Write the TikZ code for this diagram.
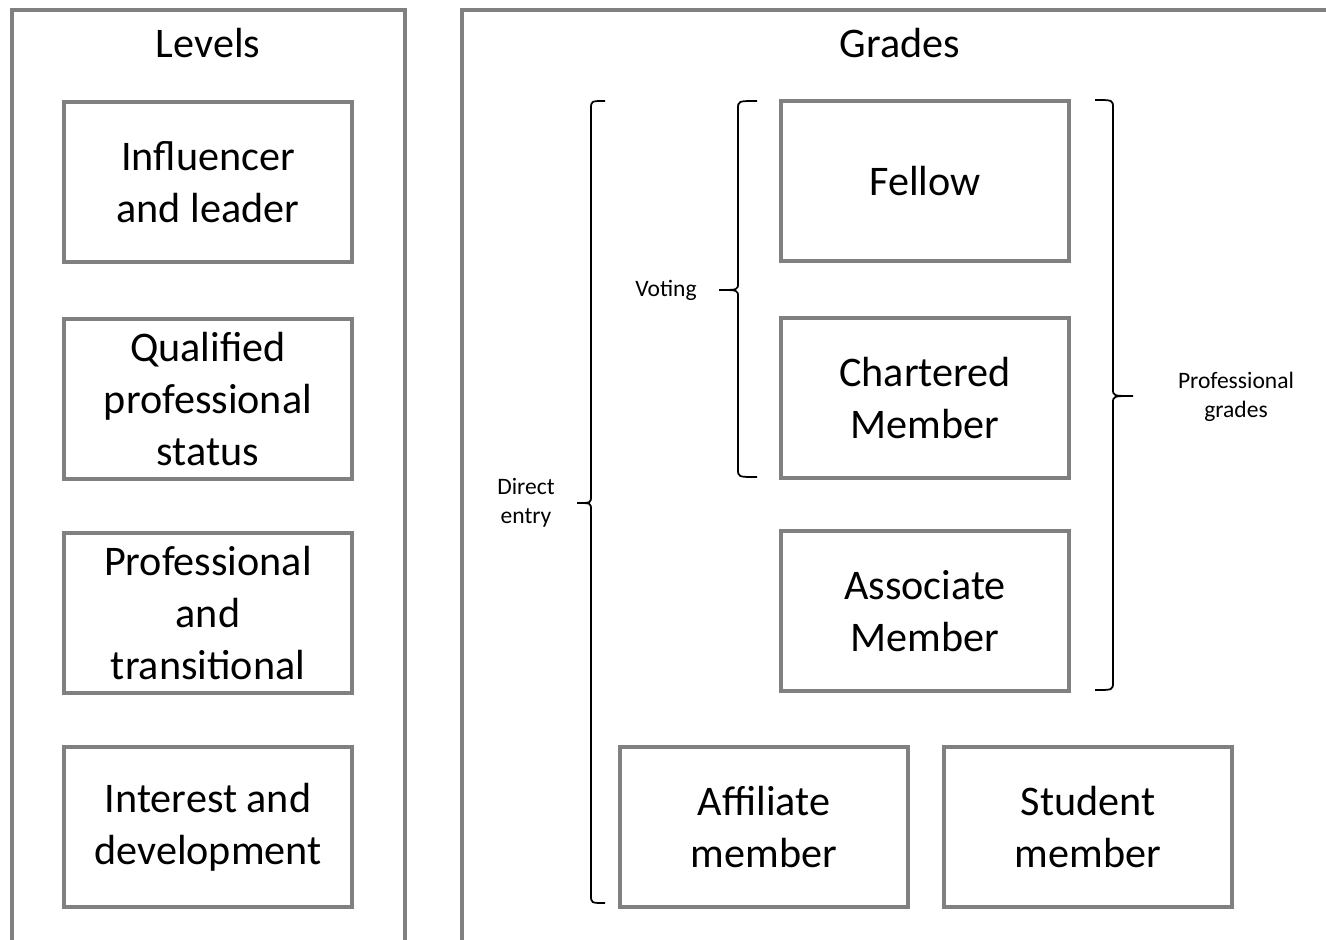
\documentclass[tikz,border=0pt]{standalone}
\usepackage{fontspec}
\setmainfont{Carlito}
\begin{document}
\begin{tikzpicture}[x=0.02cm,y=-0.02cm,
	panel/.style={draw=black!50,line width=0.09cm},
	gradebox/.style={draw=black!50,line width=0.09cm,minimum width=5.76cm,minimum height=3.2cm,inner sep=0pt,align=center,font=\fontsize{24}{29.5}\selectfont},
	heading/.style={font=\fontsize{24}{29.5}\selectfont},
	note/.style={align=center,font=\fontsize{13.4}{16.4}\selectfont},
	bracket/.style={line width=0.035cm}]
		\useasboundingbox (0,0) rectangle (1326,940);
		\clip (0,0) rectangle (1326,940);
		%panels
		\draw[panel] (12,960) -- (12,10) -- (405,10) -- (405,960);
		\draw[panel] (462,960) -- (462,10) -- (1345,10);
		%headings
		\node[heading](levels) at (208,43) {Levels};
		\node[heading](grades) at (900,43) {Grades};
		%levels
		\node[gradebox](leader) at (208,182) {Influencer\\and leader};
		\node[gradebox](qualified) at (208,399) {Qualified\\professional\\status};
		\node[gradebox](transitional) at (208,613) {Professional\\and\\transitional};
		\node[gradebox](interest) at (208,827) {Interest and\\development};
		%grades
		\node[gradebox](fellow) at (925,181) {Fellow};
		\node[gradebox](chartered) at (925,398) {Chartered\\Member};
		\node[gradebox](associate) at (925,611) {Associate\\Member};
		\node[gradebox](affiliate) at (764,827) {Affiliate\\member};
		\node[gradebox](student) at (1088,827) {Student\\member};
		%braces
		\draw[bracket] (605,101) .. controls (591,101) .. (591,109) -- (591,496) .. controls (591,503) .. (577,503)
			.. controls (591,503) .. (591,510) -- (591,895) .. controls (591,903) .. (605,903);
		\draw[bracket] (757,101) .. controls (738,101) .. (738,109) -- (738,283) .. controls (738,290) .. (719,290)
			.. controls (738,290) .. (738,297) -- (738,469) .. controls (738,477) .. (757,477);
		\draw[bracket] (1095,100) .. controls (1113,100) .. (1113,108) -- (1113,389) .. controls (1113,396) .. (1133,396)
			.. controls (1113,396) .. (1113,403) -- (1113,682) .. controls (1113,690) .. (1095,690);
		%labels
		\node[note](direct) at (526,503) {Direct\\entry};
		\node[note](voting) at (666,290) {Voting};
		\node[note](prof) at (1236,397) {Professional\\grades};
\end{tikzpicture}
\end{document}
